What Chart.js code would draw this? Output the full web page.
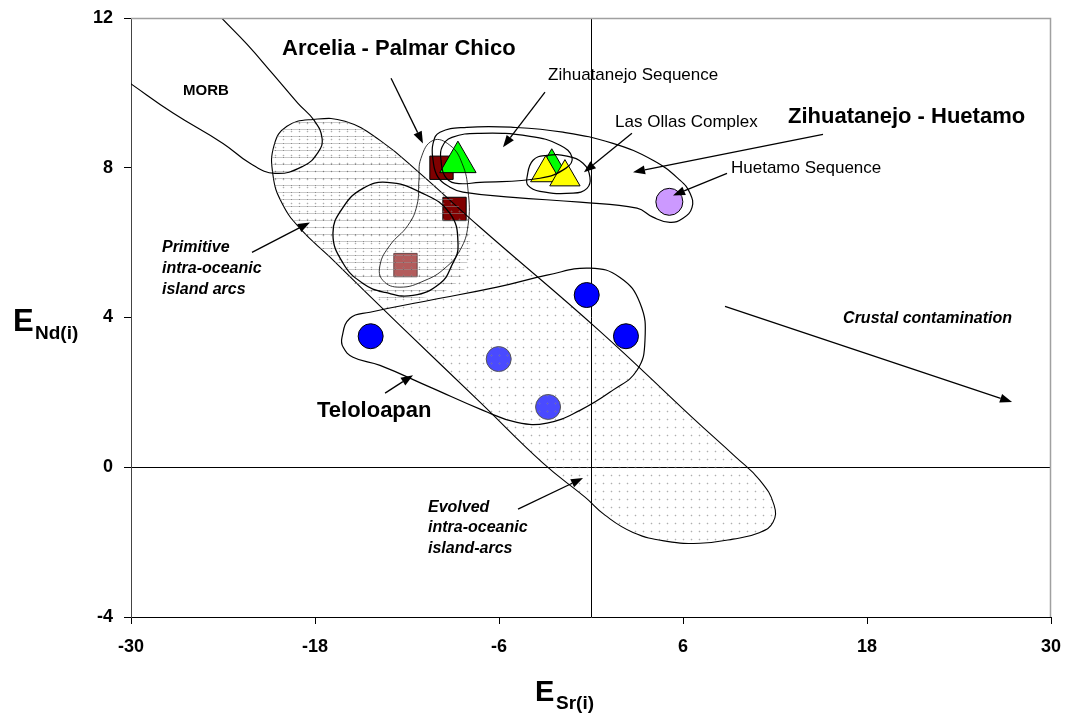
<!DOCTYPE html>
<html><head><meta charset="utf-8">
<script src="https://cdn.jsdelivr.net/npm/chart.js@4.4.1/dist/chart.umd.min.js"></script>
<style>html,body{margin:0;padding:0;background:#fff;}#wrap{width:1071px;height:713px;position:relative;}</style>
</head><body><div id="wrap"><canvas id="c" width="1071" height="713"></canvas></div>
<script>
// ---- axes ----
const xTicks = [-30, -18, -6, 6, 18, 30];
const yTicks = [-4, 0, 4, 8, 12];
const xZeroLine = 0;

// ---- samples ----
const arceliaX = [-9.75, -8.9, -12.1];
const arceliaY = [8.0, 6.9, 5.4];
const zihuaSeqX = [-2.56, -8.68];
const zihuaSeqY = [8.04, 8.15];
const lasOllasX = [-2.95, -1.70];
const lasOllasY = [7.86, 7.75];
const huetamoX = [5.11];
const huetamoY = [7.09];
const teloloapanX = [-14.37, -0.28, 2.28, -6.02, -2.80];
const teloloapanY = [3.50, 4.60, 3.50, 2.89, 1.61];

// ---- field outlines (data units) ----
const morbX = [-30.07, -27.26, -24.00, -22.24, -20.61, -18.78, -17.80, -17.54, -18.07, -19.11, -20.74, -22.44, -24.07, -24.3];
const morbY = [10.26, 9.46, 8.65, 8.12, 7.85, 8.04, 8.41, 8.79, 9.27, 9.72, 10.50, 11.30, 11.99, 12.1];
const bandX = [-18.13, -16.04, -13.76, -11.15, -7.24, 0.59, 6.65, 9.39, 11.02, 11.94, 11.87, 11.02, 9.26, 7.11, 4.96, 2.74, 0.91, -0.39, -3.13, -7.24, -12.46, -17.02, -18.98, -20.15, -20.74, -20.67, -19.83];
const bandY = [9.29, 9.24, 8.73, 7.85, 6.41, 3.63, 1.31, 0.29, -0.35, -1.01, -1.47, -1.74, -1.92, -2.03, -1.98, -1.74, -1.28, -0.80, 0.11, 1.74, 3.79, 5.61, 6.38, 7.05, 7.80, 8.60, 9.11];
const primX = [-18.13, -16.04, -13.76, -11.15, -8.41, -7.89, -8.22, -9.20, -11.15, -13.11, -14.67, -17.02, -18.98, -20.15, -20.74, -20.67, -19.83];
const primY = [9.29, 9.24, 8.73, 7.85, 6.86, 6.06, 5.32, 4.78, 4.51, 4.51, 4.67, 5.61, 6.38, 7.05, 7.80, 8.60, 9.11];
const ovalX = [-16.83, -16.17, -14.87, -13.30, -11.15, -9.20, -8.67, -9.07, -9.85, -11.61, -13.43, -14.87, -16.17];
const ovalY = [6.25, 6.94, 7.45, 7.61, 7.35, 6.78, 5.93, 5.40, 4.91, 4.59, 4.67, 4.91, 5.45];
const arcFieldX = [-10.30, -9.20, -8.41, -8.02, -8.02, -8.54, -9.52, -10.83, -12.46, -13.57, -13.76, -13.11, -11.94, -11.35, -11.22, -11.09];
const arcFieldY = [8.73, 8.60, 8.12, 7.40, 6.46, 5.80, 5.32, 4.99, 4.81, 4.99, 5.40, 5.93, 6.46, 7.00, 7.67, 8.25];
const zhOuterX = [-9.85, -8.09, -5.09, -1.83, 1.43, 4.04, 5.80, 6.46, 6.59, 6.00, 5.15, 4.04, 3.00, -0.72, -5.09, -8.35, -9.20, -9.98, -10.30, -10.30];
const zhOuterY = [8.95, 9.08, 9.08, 8.95, 8.65, 8.20, 7.67, 7.32, 6.94, 6.65, 6.54, 6.68, 6.92, 7.08, 7.21, 7.35, 7.48, 7.75, 8.20, 8.65];
const zsInnerX = [-9.72, -9.07, -7.24, -3.98, -2.02, -1.24, -1.63, -3.33, -7.24, -8.87, -9.52, -9.78];
const zsInnerY = [8.55, 8.81, 8.92, 8.84, 8.60, 8.28, 7.99, 7.72, 7.61, 7.59, 7.77, 8.20];
const ollasFieldX = [-4.17, -3.78, -2.87, -1.57, -0.52, -0.07, -0.26, -1.17, -3.33, -4.11];
const ollasFieldY = [7.75, 8.20, 8.33, 8.31, 8.12, 7.75, 7.45, 7.32, 7.37, 7.53];
const teloFieldX = [-16.24, -15.72, -14.41, -10.50, -6.13, -2.87, -0.07, 1.89, 3.20, 3.52, 3.00, 1.43, -0.72, -2.87, -4.83, -7.04, -10.50, -13.76, -15.52, -16.17];
const teloFieldY = [3.47, 3.98, 4.14, 4.46, 4.81, 5.13, 5.32, 5.07, 4.38, 3.39, 2.59, 2.06, 1.52, 1.18, 1.20, 1.52, 2.14, 2.72, 2.94, 3.21];

// ---- annotation arrows (from -> to, data units) ----
const arrowFromX = [-13.04, -3.00, 2.67, 15.13, 8.87, -22.11, -13.43, -4.76, 8.74];
const arrowFromY = [10.39, 10.02, 8.92, 8.89, 7.85, 5.74, 1.98, -1.12, 4.30];
const arrowToX = [-10.96, -5.74, -0.46, 2.74, 5.35, -18.33, -11.61, -0.52, 27.46];
const arrowToY = [8.65, 8.55, 7.88, 7.88, 7.26, 6.54, 2.46, -0.29, 1.74];

const FF = '"Liberation Sans", Arial, sans-serif';
const notes = [
  {t: 'Arcelia - Palmar Chico', x: -20.15, y: 11.0, f: 'bold 22px ' + FF},
  {t: 'Zihuatanejo - Huetamo', x: 12.85, y: 9.19, f: 'bold 22px ' + FF},
  {t: 'Zihuatanejo Sequence', x: -2.80, y: 10.34, f: '17px ' + FF},
  {t: 'Las Ollas Complex', x: 1.57, y: 9.08, f: '17px ' + FF},
  {t: 'Huetamo Sequence', x: 9.13, y: 7.85, f: '17px ' + FF},
  {t: 'MORB', x: -26.61, y: 9.94, f: 'bold 15px ' + FF},
  {t: 'Primitive', x: -27.98, y: 5.74, f: 'italic bold 16px ' + FF},
  {t: 'intra-oceanic', x: -27.98, y: 5.18, f: 'italic bold 16px ' + FF},
  {t: 'island arcs', x: -27.98, y: 4.62, f: 'italic bold 16px ' + FF},
  {t: 'Teloloapan', x: -17.87, y: 1.34, f: 'bold 22px ' + FF},
  {t: 'Evolved', x: -10.63, y: -1.20, f: 'italic bold 16px ' + FF},
  {t: 'intra-oceanic', x: -10.63, y: -1.74, f: 'italic bold 16px ' + FF},
  {t: 'island-arcs', x: -10.63, y: -2.30, f: 'italic bold 16px ' + FF},
  {t: 'Crustal contamination', x: 16.44, y: 3.85, f: 'italic bold 16px ' + FF}
];

function pts(xs, ys) { return xs.map((x, i) => ({x: x, y: ys[i]})); }

function makePattern(kind) {
  const c = document.createElement('canvas');
  const g = c.getContext('2d');
  if (kind === 'dots') {
    c.width = 8; c.height = 8;
    g.fillStyle = 'rgba(120,120,120,0.6)';
    g.fillRect(3, 3, 1, 1);
    g.fillStyle = 'rgba(150,150,150,0.18)';
    g.fillRect(2, 3, 1, 1); g.fillRect(4, 3, 1, 1); g.fillRect(3, 2, 1, 1); g.fillRect(3, 4, 1, 1);
  } else {
    c.width = 8; c.height = 7;
    g.fillStyle = 'rgba(150,150,150,0.5)';
    g.fillRect(0, 3, 8, 1);
    g.fillStyle = 'rgba(90,90,90,0.55)';
    g.fillRect(3, 3, 1, 1);
  }
  return g.createPattern(c, 'repeat');
}

const outline = (label, xs, ys, w, closed) => ({
  label: label, data: pts(xs, ys), showLine: true, closed: closed, tension: 0.45,
  borderColor: '#000', borderWidth: w, pointRadius: 0, fill: false, order: 10
});

const datasets = [
  {label: 'Arcelia - Palmar Chico', data: pts(arceliaX, arceliaY), pointStyle: 'rect', pointRadius: 16.5,
   backgroundColor: ['#800000', '#800000', '#b35c5c'], borderColor: ['#000', '#000', '#6a4a4a'], borderWidth: 1, order: 36},
  {label: 'Zihuatanejo Sequence', data: pts(zihuaSeqX, zihuaSeqY), pointStyle: 'triangle', pointRadius: [17.5, 21],
   backgroundColor: '#00ff00', borderColor: '#000', borderWidth: 1, order: 35},
  {label: 'Las Ollas Complex', data: pts(lasOllasX, lasOllasY), pointStyle: 'triangle', pointRadius: 17.5,
   backgroundColor: '#ffff00', borderColor: '#000', borderWidth: 1, order: 34},
  {label: 'Huetamo Sequence', data: pts(huetamoX, huetamoY), pointStyle: 'circle', pointRadius: 13.5,
   backgroundColor: '#cc99ff', borderColor: '#000', borderWidth: 1, order: 34},
  {label: 'Teloloapan', data: pts(teloloapanX, teloloapanY), pointStyle: 'circle', pointRadius: 12.5,
   backgroundColor: ['#0000ff', '#0000ff', '#0000ff', '#4a4aff', '#4a4aff'],
   borderColor: ['#000', '#000', '#000', '#555', '#555'], borderWidth: 1, order: 34},
  {label: 'Evolved field', data: pts(bandX, bandY), showLine: true, closed: true, tension: 0.45,
   fill: 'shape', backgroundColor: makePattern('dots'), borderColor: '#000', borderWidth: 1.1, pointRadius: 0, order: 20},
  {label: 'Primitive field', data: pts(primX, primY), showLine: true, closed: true, tension: 0.45,
   fill: 'shape', backgroundColor: makePattern('hatch'), borderWidth: 0, pointRadius: 0, order: 19},
  outline('Primitive oval', ovalX, ovalY, 1.3, true),
  outline('Arcelia field', arcFieldX, arcFieldY, 0.8, true),
  outline('Zihuatanejo-Huetamo field', zhOuterX, zhOuterY, 1.2, true),
  outline('Zihuatanejo Sequence field', zsInnerX, zsInnerY, 1.2, true),
  outline('Las Ollas field', ollasFieldX, ollasFieldY, 1.2, true),
  outline('Teloloapan field', teloFieldX, teloFieldY, 1.2, true),
  outline('MORB', morbX, morbY, 1.2, false)
];

const closeLoops = {
  id: 'closeLoops',
  afterDatasetUpdate(chart, args) {
    const ds = chart.data.datasets[args.index];
    const line = args.meta.dataset;
    if (!ds.closed || !line) return;
    line._loop = true; line._fullLoop = true;
    line._pointsUpdated = false;
    delete line._segments; delete line._path;
  }
};

const decor = {
  id: 'decor',
  afterDatasetsDraw(chart) {
    const {ctx, chartArea: a, scales: {x, y}} = chart;
    ctx.save();
    // plot-area frame (top/right)
    ctx.strokeStyle = '#a0a0a0'; ctx.lineWidth = 1.5;
    ctx.beginPath(); ctx.moveTo(a.left, a.top + 0.5); ctx.lineTo(a.right - 0.5, a.top + 0.5); ctx.lineTo(a.right - 0.5, a.bottom); ctx.stroke();
    // arrows
    ctx.strokeStyle = '#000'; ctx.fillStyle = '#000'; ctx.lineWidth = 1.3;
    for (let i = 0; i < arrowFromX.length; i++) {
      const x0 = x.getPixelForValue(arrowFromX[i]), y0 = y.getPixelForValue(arrowFromY[i]);
      const x1 = x.getPixelForValue(arrowToX[i]), y1 = y.getPixelForValue(arrowToY[i]);
      const ang = Math.atan2(y1 - y0, x1 - x0), L = 12, W = 4.5;
      const bx = x1 - L * Math.cos(ang), by = y1 - L * Math.sin(ang);
      ctx.beginPath(); ctx.moveTo(x0, y0); ctx.lineTo(bx, by); ctx.stroke();
      ctx.beginPath(); ctx.moveTo(x1, y1);
      ctx.lineTo(bx + W * Math.sin(ang), by - W * Math.cos(ang));
      ctx.lineTo(bx - W * Math.sin(ang), by + W * Math.cos(ang));
      ctx.closePath(); ctx.fill();
    }
    // text notes
    ctx.textAlign = 'left'; ctx.textBaseline = 'alphabetic';
    for (const n of notes) {
      ctx.font = n.f;
      ctx.fillText(n.t, x.getPixelForValue(n.x), y.getPixelForValue(n.y));
    }
    // axis titles
    ctx.font = 'bold 31px ' + FF; ctx.fillText('E', 13, 331);
    ctx.font = 'bold 19px ' + FF; ctx.fillText('Nd(i)', 35, 339);
    ctx.font = 'bold 29px ' + FF; ctx.fillText('E', 535, 701);
    ctx.font = 'bold 19px ' + FF; ctx.fillText('Sr(i)', 556, 709);
    ctx.restore();
  }
};

new Chart(document.getElementById('c'), {
  type: 'scatter',
  data: {datasets: datasets},
  plugins: [closeLoops, decor],
  options: {
    responsive: false, animation: false, events: [],
    layout: {autoPadding: false, padding: {left: 0, top: 18, right: 20, bottom: 0}},
    plugins: {legend: {display: false}, tooltip: {enabled: false}},
    scales: {
      x: {
        type: 'linear', min: -30, max: 30,
        afterBuildTicks: s => { s.ticks = xTicks.concat([xZeroLine]).sort((a, b) => a - b).map(v => ({value: v})); },
        afterFit: s => { s.height = 96; s.paddingLeft = 0; s.paddingRight = 0; },
        grid: {
          color: c => (c.tick && c.tick.value === xZeroLine) ? '#000' : 'rgba(0,0,0,0)',
          tickColor: c => (c.tick && c.tick.value === xZeroLine) ? 'rgba(0,0,0,0)' : '#000',
          tickLength: 7, drawTicks: true
        },
        border: {color: '#000', width: 1},
        ticks: {
          font: {family: FF, size: 18, weight: 'bold'}, color: '#000', padding: 12, maxRotation: 0, autoSkip: false,
          callback: v => xTicks.includes(v) ? String(v) : ''
        }
      },
      y: {
        type: 'linear', min: -4, max: 12,
        afterBuildTicks: s => { s.ticks = yTicks.map(v => ({value: v})); },
        afterFit: s => { s.width = 131; s.paddingTop = 0; s.paddingBottom = 0; },
        grid: {color: c => (c.tick && c.tick.value === 0) ? '#000' : 'rgba(0,0,0,0)', tickColor: '#000', tickLength: 7, drawTicks: true},
        border: {color: '#444', width: 1},
        ticks: {font: {family: FF, size: 18, weight: 'bold'}, color: '#000', padding: 11, autoSkip: false}
      }
    }
  }
});
</script>
</body></html>
